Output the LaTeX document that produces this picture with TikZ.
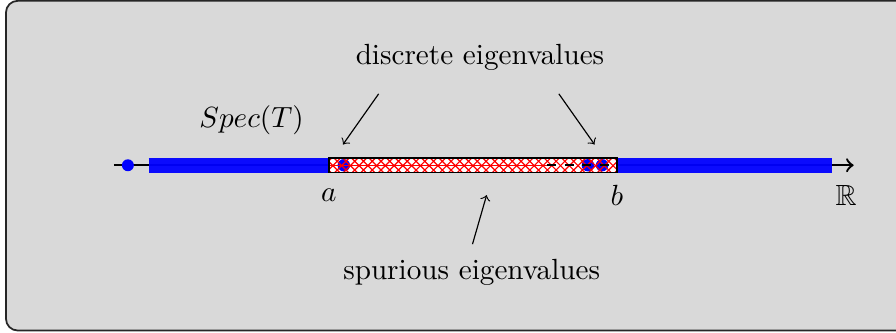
\documentclass[tikz,border=0pt]{standalone}
\usepackage{amssymb}
\usetikzlibrary{patterns, positioning}
\tikzset{
  specband/.style={blue, line width=0.18cm, opacity=0.95},
  eigdot/.style={fill=blue},
  spurbox/.style={pattern=crosshatch, pattern color=red}
}

\begin{document}
\begin{tikzpicture}
  \useasboundingbox (0,0) rectangle (10.79,4.0);
  % frame
  \draw[fill=gray!30, draw=black!85, line width=0.6pt, rounded corners] (0.072,0.02) rectangle (11.6,3.99);
  % real axis
  \coordinate (ax0) at (1.37,2.01);
  \coordinate (ax1) at (10.28,2.01);
  \draw[->, thick] (ax0) -- (ax1);
  \node (R) at (10.19,1.65) {$\mathbb{R}$};
  \fill[blue] (1.54,2.01) circle (0.072);
  % spectrum outside [a,b]
  \draw[specband] (1.79,2.01) -- (3.96,2.01);
  \draw[specband] (7.43,2.01) -- (10.02,2.01);
  % spurious part [a,b]
  \fill[white] (3.96,1.92) rectangle (7.43,2.10);
  \fill[eigdot] (4.14,2.01) circle (0.075);
  \fill[eigdot] (7.08,2.01) circle (0.075);
  \fill[eigdot] (7.25,2.01) circle (0.075);
  \fill[spurbox] (3.96,1.92) rectangle (7.43,2.10);
  \draw[red, thin] (3.96,2.01) -- (6.59,2.01);
  \draw[thick, dashed] (6.59,2.01) -- (7.43,2.01);
  \draw[line width=0.5pt] (3.96,1.92) rectangle (7.43,2.10);
  \node (a) at (3.96,1.65) {$a$};
  \node (b) at (7.43,1.65) {$b$};
  % labels
  \node (spec) at (3.03,2.55) {$Spec(T)$};
  \node (disc) at (5.78,3.31) {discrete eigenvalues};
  \node (spur) at (5.68,0.72) {spurious eigenvalues};
  \coordinate (d1s) at (4.56,2.87);
  \coordinate (d1e) at (4.13,2.26);
  \coordinate (d2s) at (6.73,2.87);
  \coordinate (d2e) at (7.16,2.26);
  \coordinate (s1s) at (5.69,1.06);
  \coordinate (s1e) at (5.86,1.65);
  \draw[->] (d1s) -- (d1e);
  \draw[->] (d2s) -- (d2e);
  \draw[->] (s1s) -- (s1e);
\end{tikzpicture}
\end{document}
